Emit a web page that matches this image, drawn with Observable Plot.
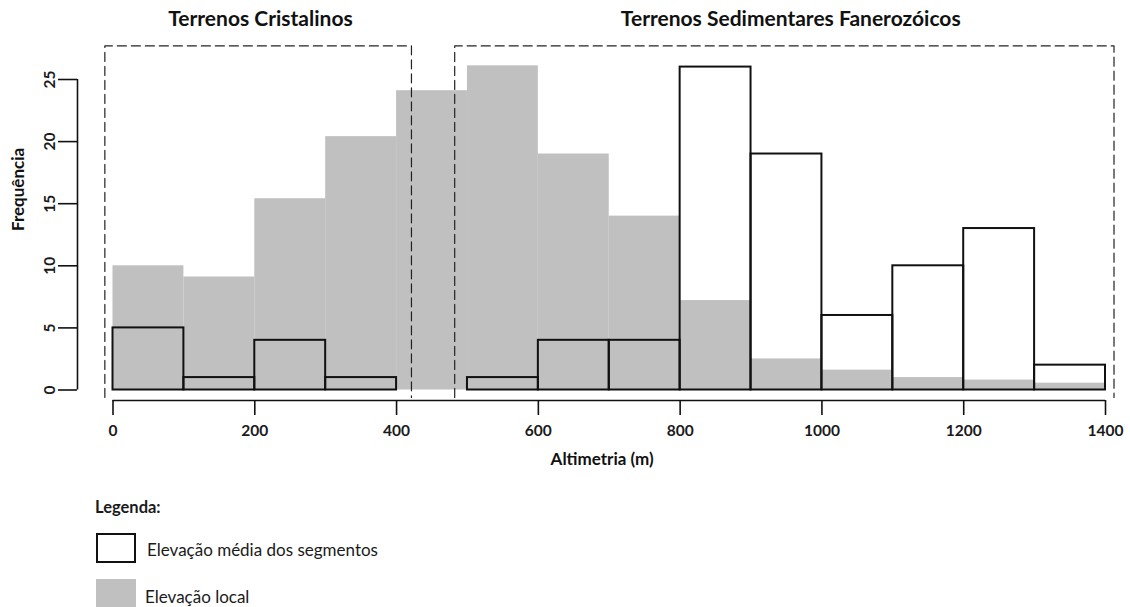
<!DOCTYPE html>
<html><head><meta charset="utf-8">
<script src="https://cdn.jsdelivr.net/npm/d3@7"></script>
<script src="https://cdn.jsdelivr.net/npm/@observablehq/plot@0.6"></script>
<style>
body{margin:0;background:#fff;font-family:Lato,"Open Sans",sans-serif;color:#1a1a1a;}
#wrap{position:relative;width:1130px;height:607px;overflow:hidden;background:#fff;}
#chart{position:absolute;left:0;top:0;}
.lg{position:absolute;white-space:nowrap;line-height:20px;}
#lgTitle{left:95px;top:497px;font-size:16.5px;font-weight:bold;}
#sw1{left:96px;top:533px;width:36px;height:26px;border:2px solid #111;background:#fff;}
#lt1{left:147px;top:540px;font-size:17px;}
#sw2{left:96px;top:579px;width:40px;height:40px;background:#c0c0c0;}
#lt2{left:145px;top:587px;font-size:17px;}
</style></head>
<body><div id="wrap"><div id="chart"></div>
<div class="lg" id="lgTitle">Legenda:</div>
<div class="lg" id="sw1"></div><div class="lg" id="lt1">Elevação média dos segmentos</div>
<div class="lg" id="sw2"></div><div class="lg" id="lt2">Elevação local</div>
</div>
<script>
// bin edges (m)
const binStart = [0, 100, 200, 300, 400, 500, 600, 700, 800, 900, 1000, 1100, 1200, 1300];
const binWidth = 100;
// Elevação local (grey histogram)
const localElev = [10, 9.1, 15.4, 20.4, 24.1, 26.1, 19, 14, 7.2, 2.5, 1.6, 1.0, 0.8, 0.55];
// Elevação média dos segmentos (outlined histogram)
const segElev = [5, 1, 4, 1, 0, 1, 4, 4, 26, 19, 6, 10, 13, 2];
// axis ticks
const xTicks = [0, 200, 400, 600, 800, 1000, 1200, 1400];
const yTicks = [0, 5, 10, 15, 20, 25];
// terrain groups (dashed boxes), in data units
const groupNames = ["Terrenos Cristalinos", "Terrenos Sedimentares Fanerozóicos"];
const groupFrom = [-11.5, 482];
const groupTo = [421, 1412];
const groupLabelX = [208, 956];
const boxTop = 27.7;
const boxBottom = -0.6;

const localRows = binStart.map((b, i) => ({x1: b, x2: b + binWidth, v: localElev[i]}));
const segRows = binStart.map((b, i) => ({x1: b, x2: b + binWidth, v: segElev[i]})).filter(d => d.v > 0);
const boxPath = groupNames.flatMap((n, i) => [
  {name: n, x: groupFrom[i], y: boxBottom},
  {name: n, x: groupFrom[i], y: boxTop},
  {name: n, x: groupTo[i], y: boxTop},
  {name: n, x: groupTo[i], y: boxBottom}
]);
const titles = groupNames.map((n, i) => ({name: n, x: groupLabelX[i], y: boxTop}));

const chart = Plot.plot({
  width: 1130, height: 480,
  marginLeft: 112.5, marginRight: 25, marginTop: 79, marginBottom: 90.5,
  x: {domain: [0, 1400]},
  y: {domain: [0, 25]},
  style: {fontFamily: "Lato, 'Open Sans', sans-serif", color: "#1a1a1a", background: "white", overflow: "visible"},
  marks: [
    Plot.rectY(localRows, {x1: "x1", x2: "x2", y: "v", fill: "#c0c0c0", inset: 0}),
    Plot.rectY(segRows, {x1: "x1", x2: "x2", y: "v", fill: "none", stroke: "#111", strokeWidth: 2, inset: 0}),
    Plot.line(boxPath, {x: "x", y: "y", z: "name", stroke: "#222", strokeWidth: 1.2, strokeDasharray: "9,5"}),
    Plot.text(titles, {x: "x", y: "y", text: "name", dy: -27, fontSize: 21, fontWeight: "bold", fill: "#111"}),
    Plot.ruleY([0], {x1: 0, x2: 1400, dy: 10.5, strokeWidth: 1.6, stroke: "#111"}),
    Plot.axisX({ticks: xTicks, tickFormat: d => String(d), tickSize: 15, tickPadding: 9, dy: 10.5, fontSize: 15.5, fontWeight: "bold", label: null, strokeWidth: 1.6, stroke: "#111"}),
    Plot.ruleX([0], {y1: 0, y2: 25, dx: -35.5, strokeWidth: 1.6, stroke: "#111"}),
    Plot.axisY({ticks: yTicks, tickFormat: d => String(d), tickSize: 19, tickRotate: -90, tickPadding: 4, dx: -35.5, fontSize: 15.5, fontWeight: "bold", label: null, strokeWidth: 1.6, stroke: "#111"}),
    Plot.text(["Frequência"], {frameAnchor: "left", y: () => 12.8, dx: -94, rotate: -90, fontSize: 17, fontWeight: "bold", fill: "#111"}),
    Plot.text(["Altimetria (m)"], {x: () => 690, frameAnchor: "bottom", dy: 75, fontSize: 17, fontWeight: "bold", fill: "#111"})
  ]
});
document.getElementById("chart").appendChild(chart);
</script>
</body></html>
